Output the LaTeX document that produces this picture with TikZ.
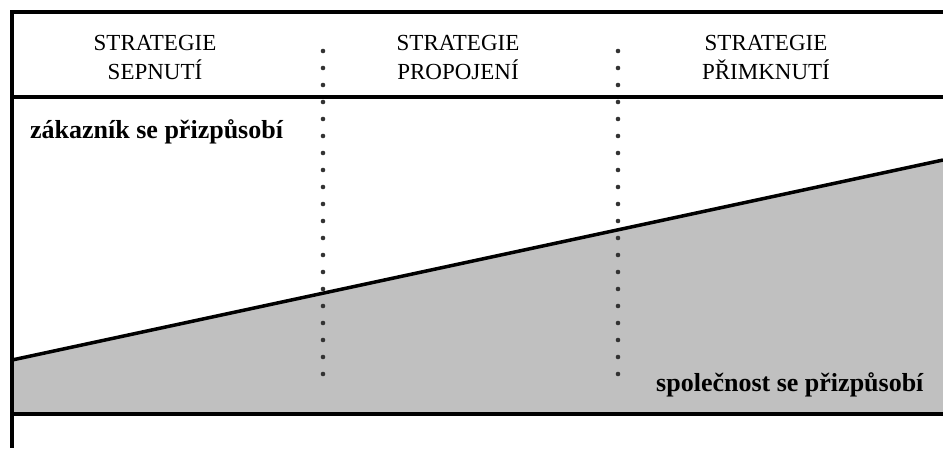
\documentclass[tikz,border=0pt]{standalone}
\usepackage{fontspec}
\setmainfont{Liberation Serif}
\definecolor{areagray}{RGB}{192,192,192}
\tikzset{
  frame/.style={line width=3.5pt},
  slopeline/.style={line width=3.5pt},
  head/.style={anchor=base,inner sep=0pt,font=\fontsize{23}{28}\selectfont},
  lbl/.style={anchor=base west,inner sep=0pt,font=\fontsize{26}{30}\selectfont\bfseries},
  dotmark/.style={fill=black!80,draw=none}
}
\begin{document}
\begin{tikzpicture}[x=1pt,y=-1pt]
\useasboundingbox (0,0) rectangle (943,448);
% shaded region
\fill[areagray] (12,360) -- (943,160) -- (943,413) -- (12,413) -- cycle;
\draw[slopeline] (12,360) -- (943,160);
% frame
\draw[frame] (943,12) -- (12,12) -- (12,448);
\draw[frame] (12,97) -- (943,97);
\draw[frame] (12,414) -- (943,414);
% dotted separators
\foreach \xx in {323,618}{
  \foreach \k in {0,...,19}{
    \fill[dotmark] (\xx,51+17*\k) circle (2.3pt);
  }
}
% headers
\node[head] (h1a) at (155,50) {STRATEGIE};
\node[head] (h1b) at (155,79) {SEPNUTÍ};
\node[head] (h2a) at (458,50) {STRATEGIE};
\node[head] (h2b) at (458,79) {PROPOJENÍ};
\node[head] (h3a) at (766,50) {STRATEGIE};
\node[head] (h3b) at (766,79) {PŘIMKNUTÍ};
% labels
\node[lbl] (zak) at (30,138) {zákazník se přizpůsobí};
\node[lbl] (spol) at (656,391) {společnost se přizpůsobí};
\end{tikzpicture}
\end{document}
